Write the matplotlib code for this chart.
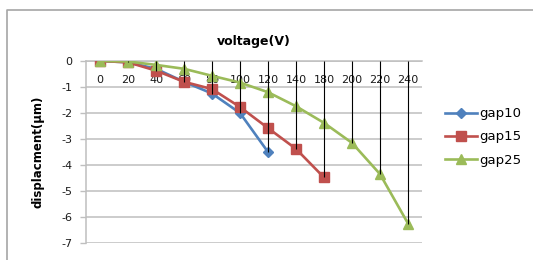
import matplotlib
matplotlib.use("Agg")
import matplotlib.pyplot as plt
from matplotlib.lines import Line2D
import numpy as np

# categories on the voltage axis (note: no 160 in the source table)
voltage = ["0", "20", "40", "60", "80", "100", "120", "140", "180", "200", "220", "240"]
gap10 = [0, -0.05, -0.3, -0.8, -1.25, -2.0, -3.5]
gap15 = [0, -0.05, -0.37, -0.8, -1.08, -1.77, -2.58, -3.38, -4.48]
gap25 = [0, -0.02, -0.15, -0.3, -0.57, -0.83, -1.2, -1.74, -2.38, -3.15, -4.35, -6.25]

plt.rcParams['font.family'] = ['DejaVu Sans']
plt.rcParams['axes.unicode_minus'] = False

W, H = 533, 260
fig = plt.figure(figsize=(W / 100, H / 100), dpi=100)
ax = fig.add_axes([86 / W, 1 - 243 / H, 336 / W, 182 / H])

# outer chart border (only the left/top edges fall in the picture)
fig.lines.append(Line2D([7 / W, 7 / W, 1.05], [-0.05, 1 - 10 / H, 1 - 10 / H],
                        transform=fig.transFigure, color="#A6A6A6", lw=1.2))

x = np.arange(len(voltage))
series = [
    ("gap10", gap10, "#4F81BD", "D", 5.5),
    ("gap15", gap15, "#C0504D", "s", 6.5),
    ("gap25", gap25, "#9BBB59", "^", 7.0),
]
for name, vals, col, mk, ms in series:
    ax.plot(x[:len(vals)], vals, color=col, lw=1.9, marker=mk, ms=ms,
            mec=col, mfc=col, label=name, zorder=3)

# drop lines from the category axis down to the lowest point
lowest = []
for i in range(len(voltage)):
    vs = [s[1][i] for s in series if i < len(s[1])]
    lowest.append(min(vs))
ax.vlines(x, lowest, 0, colors="black", lw=0.8, zorder=4)

ax.set_xlim(-0.5, len(voltage) - 0.5)
ax.set_ylim(-7, 0)
ax.set_yticks(range(-7, 1))
ax.yaxis.grid(True, color="#BFBFBF", lw=1.1)
ax.set_axisbelow(True)

ax.set_xticks(x)
ax.set_xticklabels(voltage)
ax.xaxis.set_ticks_position("top")
ax.tick_params(axis="x", top=True, bottom=False, labeltop=True, labelbottom=False,
               length=0, pad=-17, labelsize=8, colors="#1a1a1a")
ax.tick_params(axis="y", length=4, width=1, color="#BFBFBF", pad=6,
               labelsize=8, labelcolor="#1a1a1a")

for side in ["right", "bottom"]:
    ax.spines[side].set_visible(False)
ax.spines["left"].set_color("#BFBFBF")
ax.spines["top"].set_color("#BFBFBF")
ax.spines["left"].set_linewidth(1.1)
ax.spines["top"].set_linewidth(1.1)

fig.text(254 / W, 1 - 41 / H, "voltage(V)", ha="center", va="center",
         fontsize=9, fontweight="bold")
fig.text(38 / W, 1 - 152 / H, "displacment(μm)", ha="center", va="center",
         rotation=90, fontsize=8.5, fontweight="bold")

fig.legend(loc="center left", bbox_to_anchor=(440 / W, 1 - 137 / H),
           frameon=False, fontsize=9.5, handlelength=2.4, handletextpad=0.15,
           labelspacing=0.78, borderaxespad=0)

fig.savefig("out.png", dpi=100)
